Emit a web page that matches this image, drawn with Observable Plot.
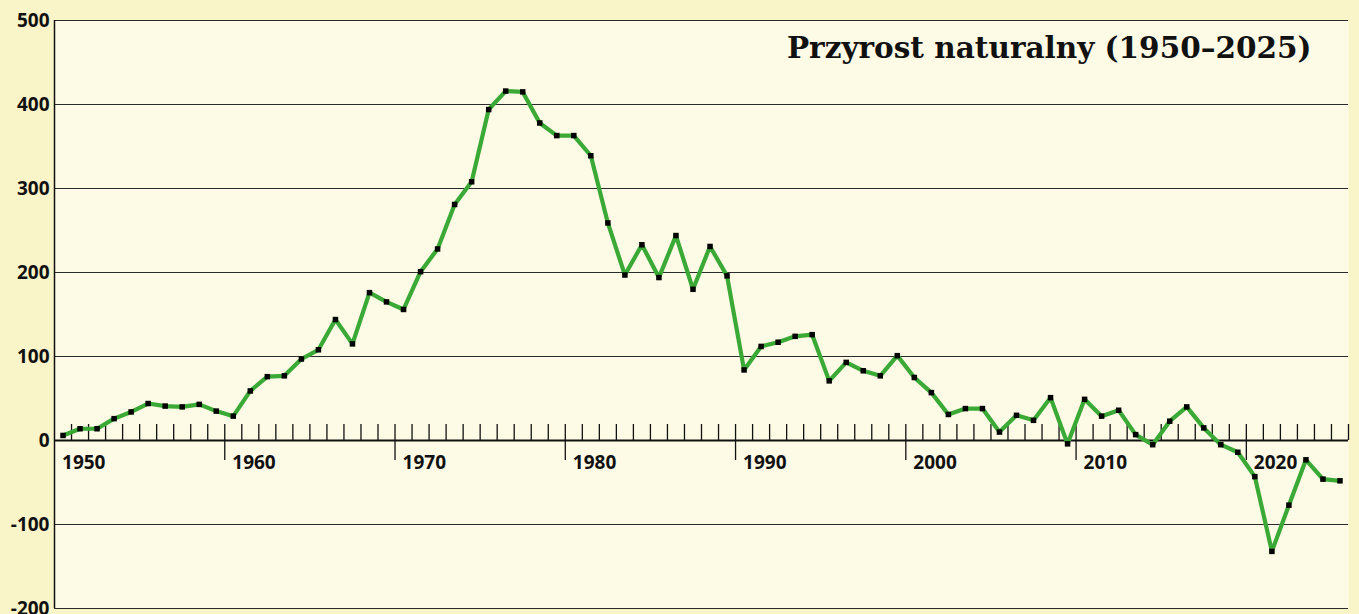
<!DOCTYPE html>
<html>
<head>
<meta charset="utf-8">
<script src="https://cdn.jsdelivr.net/npm/d3@7"></script>
<script src="https://cdn.jsdelivr.net/npm/@observablehq/plot@0.6"></script>
<style>
  html, body { margin: 0; padding: 0; background: #FAF4C9; }
  #chart { width: 1359px; height: 614px; overflow: hidden; }
</style>
</head>
<body>
<div id="chart"></div>
<script>
const title = "Przyrost naturalny (1950–2025)";
const years = [1950,1951,1952,1953,1954,1955,1956,1957,1958,1959,
  1960,1961,1962,1963,1964,1965,1966,1967,1968,1969,
  1970,1971,1972,1973,1974,1975,1976,1977,1978,1979,
  1980,1981,1982,1983,1984,1985,1986,1987,1988,1989,
  1990,1991,1992,1993,1994,1995,1996,1997,1998,1999,
  2000,2001,2002,2003,2004,2005,2006,2007,2008,2009,
  2010,2011,2012,2013,2014,2015,2016,2017,2018,2019,
  2020,2021,2022,2023,2024,2025];
const values = [6,14,14,26,34,44,41,40,43,35,
  29,59,76,77,97,108,144,115,176,165,
  156,201,228,281,308,394,416,415,378,363,
  363,339,259,197,233,194,244,180,231,196,
  84,112,117,124,126,71,93,83,77,101,
  75,57,31,38,38,10,30,24,51,-4,
  49,29,36,7,-5,23,40,15,-5,-14,
  -43,-132,-77,-23,-46,-48];
const yTicks = [-200,-100,0,100,200,300,400,500];
const gridTicks = [-200,-100,100,200,300,400,500];
const decadeLabels = [1950,1960,1970,1980,1990,2000,2010,2020];

const data = years.map((year, i) => ({year, value: values[i]}));
// band boundaries between years (category axis)
const boundaries = years.slice(1).map(y => y - 0.5).concat([years[years.length - 1] + 0.5]);
const minorBounds = boundaries.filter(b => (b + 0.5) % 10 !== 0);
const majorBounds = boundaries.filter(b => (b + 0.5) % 10 === 0);

const H = 614, mT = 20, mB = 6;
const pxPerUnit = (H - mT - mB) / (500 - (-200));
const upTick = 16 / pxPerUnit;
const downTick = 20 / pxPerUnit;

const chart = Plot.plot({
  width: 1359,
  height: H,
  marginLeft: 54,
  marginRight: 11,
  marginTop: mT,
  marginBottom: mB,
  style: {background: "#FAF4C9", overflow: "visible"},
  x: {domain: [years[0] - 0.5, years[years.length - 1] + 0.5], axis: null},
  y: {domain: [-200, 500]},
  marks: [
    Plot.frame({fill: "#FDFAE5", stroke: null}),
    Plot.ruleY(gridTicks, {stroke: "#2b2b2b", strokeWidth: 1.2}),
    Plot.axisY(yTicks, {
      tickSize: 0, tickPadding: 5,
      fontSize: 19, fontWeight: "bold", fontFamily: "Open Sans",
      fill: "#111", tickFormat: d => String(d), label: null
    }),
    Plot.ruleX([years[0] - 0.5], {stroke: "#111", strokeWidth: 1.5}),
    Plot.ruleX(minorBounds, {y1: 0, y2: upTick, stroke: "#111", strokeWidth: 1.3}),
    Plot.ruleX(majorBounds, {y1: -downTick, y2: upTick, stroke: "#111", strokeWidth: 1.3}),
    Plot.ruleY([0], {stroke: "#111", strokeWidth: 2.2}),
    Plot.text(decadeLabels, {
      x: d => d, y: 0, dy: 22, dx: -1, text: d => String(d),
      textAnchor: "start", fontSize: 19, fontWeight: "bold",
      fontFamily: "Open Sans", fill: "#111"
    }),
    Plot.line(data, {x: "year", y: "value", stroke: "#3AA935", strokeWidth: 4.2, strokeLinejoin: "miter"}),
    Plot.dot(data, {x: "year", y: "value", symbol: "square", r: 3.1, fill: "#000", stroke: null}),
    Plot.text([title], {
      frameAnchor: "top-right", dx: -37, dy: 28, lineAnchor: "middle",
      textAnchor: "end", text: d => d,
      fontSize: 29.5, fontWeight: "bold", fontFamily: "DejaVu Serif", fill: "#111"
    })
  ]
});
document.getElementById("chart").appendChild(chart);
</script>
</body>
</html>
